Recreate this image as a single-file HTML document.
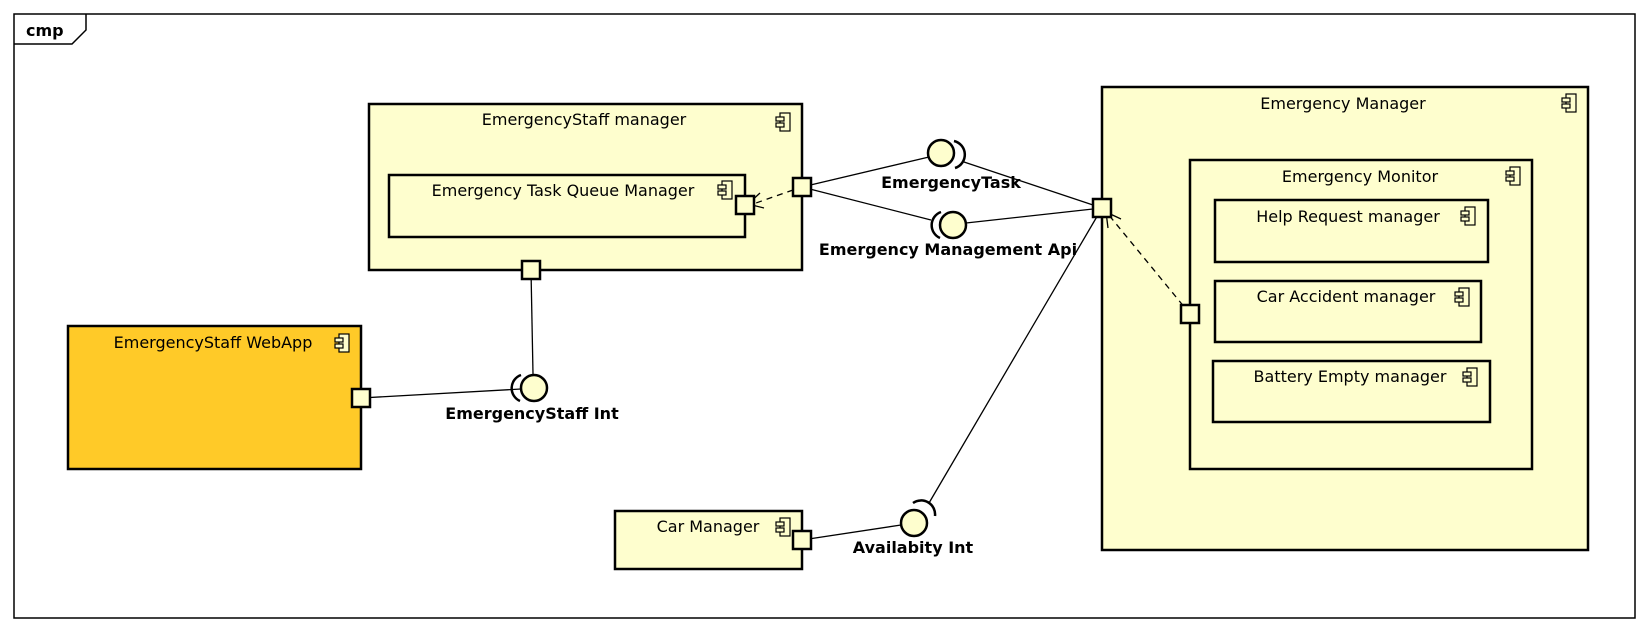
<!DOCTYPE html>
<html><head><style>body{margin:0;background:#fff}svg{display:block}text{font-family:"DejaVu Sans",sans-serif}</style></head><body>
<svg width="1649" height="632" viewBox="0 0 1649 632" xmlns="http://www.w3.org/2000/svg">
<defs>
<g id="ci"><rect x="4" y="0" width="10" height="18" fill="#FEFECE" stroke="#000" stroke-width="1.2"/><rect x="0" y="4" width="8" height="4" fill="#FEFECE" stroke="#000" stroke-width="1.2"/><rect x="0" y="10" width="8" height="4" fill="#FEFECE" stroke="#000" stroke-width="1.2"/></g>
</defs>
<rect x="14" y="14" width="1621" height="604" fill="none" stroke="#000" stroke-width="1.5"/>
<path d="M14 44 H72 L86 30 V14" fill="none" stroke="#000" stroke-width="1.5"/>
<text x="26" y="36" font-size="16" font-weight="bold">cmp</text>

<g fill="#FEFECE" stroke="#000" stroke-width="2.5">
<rect x="369" y="104" width="433" height="166"/>
<rect x="389" y="175" width="356" height="62"/>
<rect x="68" y="326" width="293" height="143" fill="#FFCA28"/>
<rect x="615" y="511" width="187" height="58"/>
<rect x="1102" y="87" width="486" height="463"/>
<rect x="1190" y="160" width="342" height="309"/>
<rect x="1215" y="200" width="273" height="62"/>
<rect x="1215" y="281" width="266" height="61"/>
<rect x="1213" y="361" width="277" height="61"/>
</g>
<g font-size="16" text-anchor="middle">
<text x="584" y="125">EmergencyStaff manager</text>
<text x="563" y="196">Emergency Task Queue Manager</text>
<text x="213" y="348">EmergencyStaff WebApp</text>
<text x="708" y="532">Car Manager</text>
<text x="1343" y="109">Emergency Manager</text>
<text x="1360" y="182">Emergency Monitor</text>
<text x="1348" y="222">Help Request manager</text>
<text x="1346" y="302">Car Accident manager</text>
<text x="1350" y="382">Battery Empty manager</text>
</g>
<use href="#ci" x="776" y="113"/>
<use href="#ci" x="718" y="181"/>
<use href="#ci" x="335" y="334"/>
<use href="#ci" x="776" y="518"/>
<use href="#ci" x="1562" y="94"/>
<use href="#ci" x="1506" y="167"/>
<use href="#ci" x="1461" y="207"/>
<use href="#ci" x="1455" y="288"/>
<use href="#ci" x="1463" y="368"/>

<g stroke="#000" stroke-width="1.3" fill="none">
<line x1="802" y1="187" x2="929" y2="157"/>
<line x1="802" y1="187" x2="931" y2="220"/>
<line x1="964" y1="162" x2="1102" y2="208"/>
<line x1="966" y1="223" x2="1102" y2="208"/>
<line x1="531" y1="270" x2="533" y2="374"/>
<line x1="361" y1="398" x2="521" y2="389"/>
<line x1="802" y1="540" x2="901" y2="525"/>
<line x1="1102" y1="208" x2="929" y2="503"/>
<path d="M793 190 L756 203" stroke-dasharray="6,5"/>
<path d="M760 193 L748 204 L764 208"/>
<path d="M1190 314 L1108 214" stroke-dasharray="6,5"/>
<path d="M1108 228 L1106 212 L1121 219"/>
</g>
<g fill="#FEFECE" stroke="#000" stroke-width="2.5">
<circle cx="941" cy="153" r="13"/>
<circle cx="953" cy="225" r="13"/>
<circle cx="534" cy="388" r="13"/>
<circle cx="914" cy="523" r="13"/>
</g>
<g fill="none" stroke="#000" stroke-width="2.5">
<path d="M954 141 A14 14 0 0 1 955 168"/>
<path d="M941 212 A14 14 0 0 0 940 238"/>
<path d="M521 375 A14 14 0 0 0 520 401"/>
<path d="M913 503 A14 14 0 0 1 935 516"/>
</g>
<g fill="#FEFECE" stroke="#000" stroke-width="2.5">
<rect x="793" y="178" width="18" height="18"/>
<rect x="736" y="196" width="18" height="18"/>
<rect x="522" y="261" width="18" height="18"/>
<rect x="352" y="389" width="18" height="18"/>
<rect x="793" y="531" width="18" height="18"/>
<rect x="1093" y="199" width="18" height="18"/>
<rect x="1181" y="305" width="18" height="18"/>
</g>
<g font-size="16" font-weight="bold" text-anchor="middle">
<text x="951" y="188">EmergencyTask</text>
<text x="948" y="255">Emergency Management Api</text>
<text x="532" y="419">EmergencyStaff Int</text>
<text x="913" y="553">Availabity Int</text>
</g>
</svg>
</body></html>
